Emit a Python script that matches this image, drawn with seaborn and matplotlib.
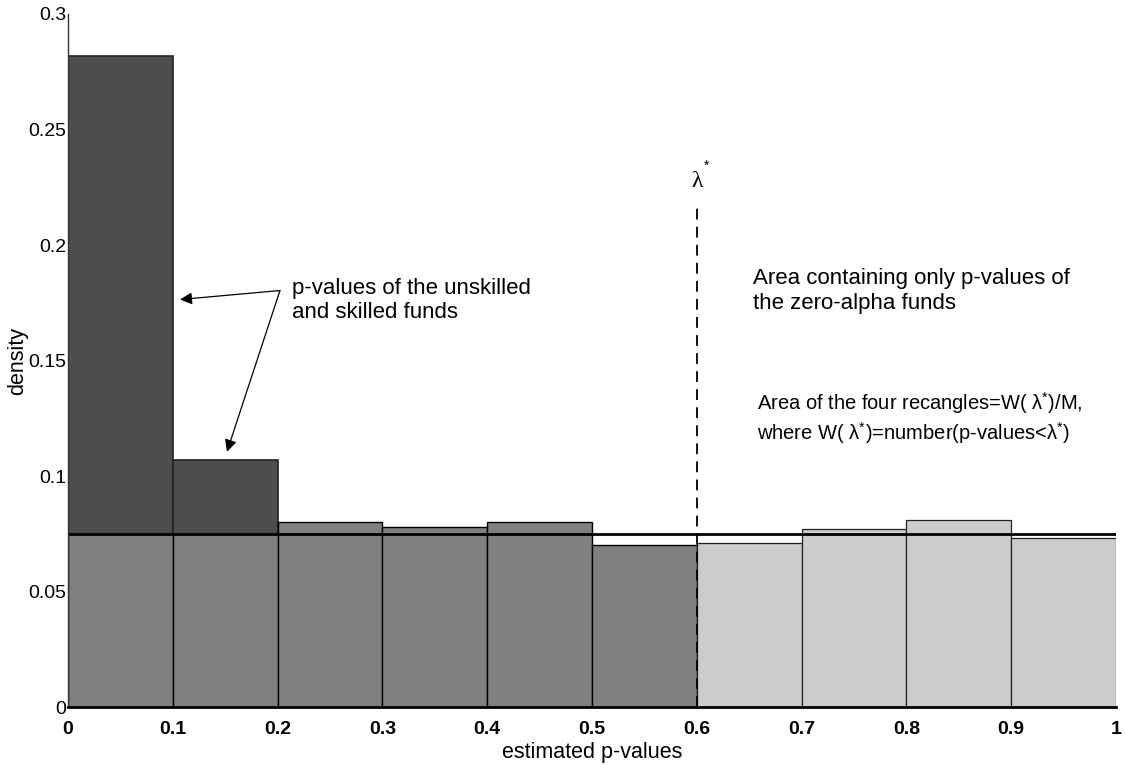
import numpy as np
import pandas as pd
import matplotlib
matplotlib.use("Agg")
import matplotlib.pyplot as plt
import seaborn as sns

#------------------------------------------------------------------------------
# data
#------------------------------------------------------------------------------
bin_edges = [0.0, 0.1, 0.2, 0.3, 0.4, 0.5, 0.6, 0.7, 0.8, 0.9, 1.0]
bar_heights = [0.282, 0.107, 0.080, 0.078, 0.080, 0.070, 0.071, 0.077, 0.081, 0.073]
pi0_level = 0.075          # horizontal line (zero-alpha level)
lambda_star = 0.6
x_ticks = [0, 0.1, 0.2, 0.3, 0.4, 0.5, 0.6, 0.7, 0.8, 0.9, 1]
y_ticks = [0, 0.05, 0.1, 0.15, 0.2, 0.25, 0.3]

centers = [(a + b) / 2 for a, b in zip(bin_edges[:-1], bin_edges[1:])]
df = pd.DataFrame({'p': centers, 'h': bar_heights})
# lower part of the bars left of lambda*: cut at the level line for the first two
df['base'] = np.where(np.arange(len(df)) < 2, pi0_level, df['h'])

sns.set_style("white")
plt.rcParams['font.family'] = ['Liberation Sans', 'DejaVu Sans']
plt.rcParams['text.color'] = 'black'
plt.rcParams['axes.labelcolor'] = 'black'
plt.rcParams['xtick.color'] = 'black'
plt.rcParams['ytick.color'] = 'black'
plt.rcParams['mathtext.fontset'] = 'custom'
plt.rcParams['mathtext.rm'] = 'Liberation Sans'

fig = plt.figure(figsize=(11.25, 7.65), dpi=100)
ax = fig.add_axes([0.0604, 0.0758, 0.9316, 0.9059])

#------------------------------------------------------------------------------
# bars
#------------------------------------------------------------------------------
left = df.iloc[:2]
sns.histplot(data=left, x='p', weights='h', bins=bin_edges[:3], color='#4d4d4d',
             alpha=1, edgecolor='#222222', linewidth=1.2, ax=ax)
mid = df.iloc[:6]
sns.histplot(data=mid, x='p', weights='base', bins=bin_edges[:7], color='#808080',
             alpha=1, edgecolor='black', linewidth=1.0, ax=ax)
right = df.iloc[6:]
sns.histplot(data=right, x='p', weights='h', bins=bin_edges[6:], color='#cccccc',
             alpha=1, edgecolor='#222222', linewidth=0.9, ax=ax)

ax.axhline(pi0_level, color='black', lw=2)
ax.plot([lambda_star, lambda_star], [0, 0.218], color='black', lw=1.3,
        linestyle=(0, (6, 4)))

#------------------------------------------------------------------------------
# text
#------------------------------------------------------------------------------
ax.text(lambda_star, 0.2275, 'λ', ha='center', va='center', fontsize=17,
        family='Liberation Serif')
ax.text(lambda_star + 0.007, 0.2345, '*', ha='left', va='center', fontsize=10)

ax.text(0.2137, 0.176, 'p-values of the unskilled\nand skilled funds',
        fontsize=16, va='center', ha='left', linespacing=1.2)
for tip in [(0.1069, 0.1764), (0.1517, 0.1105)]:
    ax.annotate('', xy=tip, xytext=(0.2023, 0.1803),
                arrowprops=dict(arrowstyle='-|>', color='black', lw=0.9,
                                mutation_scale=18, shrinkA=0, shrinkB=0))

ax.text(0.654, 0.1800, 'Area containing only p-values of\nthe zero-alpha funds',
        fontsize=16, va='center', ha='left', linespacing=1.25)
ax.text(0.657, 0.1251,
        'Area of the four recangles=W( λ$^{*}$)/M,\n'
        'where W( λ$^{*}$)=number(p-values<λ$^{*}$)',
        fontsize=14.5, va='center', ha='left', linespacing=1.2)

#------------------------------------------------------------------------------
# axes
#------------------------------------------------------------------------------
ax.set_xlim(0, 1)
ax.set_ylim(0, 0.3)
ax.set_xticks(x_ticks)
ax.set_xticklabels([f'{t:g}' for t in x_ticks], fontweight='bold', fontsize=14)
ax.set_yticks(y_ticks)
ax.set_yticklabels([f'{t:g}' for t in y_ticks], fontsize=14)
ax.tick_params(axis='x', length=0, pad=10)
ax.tick_params(axis='y', direction='in', length=4, color='#bbbbbb', pad=1)
ax.set_xlabel('estimated p-values', fontsize=15.5, labelpad=3)
ax.set_ylabel('density', fontsize=15.5, labelpad=0)

sns.despine(ax=ax)
ax.spines['left'].set_color('#333333')
ax.spines['left'].set_linewidth(1.0)
ax.spines['bottom'].set_color('black')
ax.spines['bottom'].set_linewidth(2.0)

fig.savefig('out.png', dpi=100)
